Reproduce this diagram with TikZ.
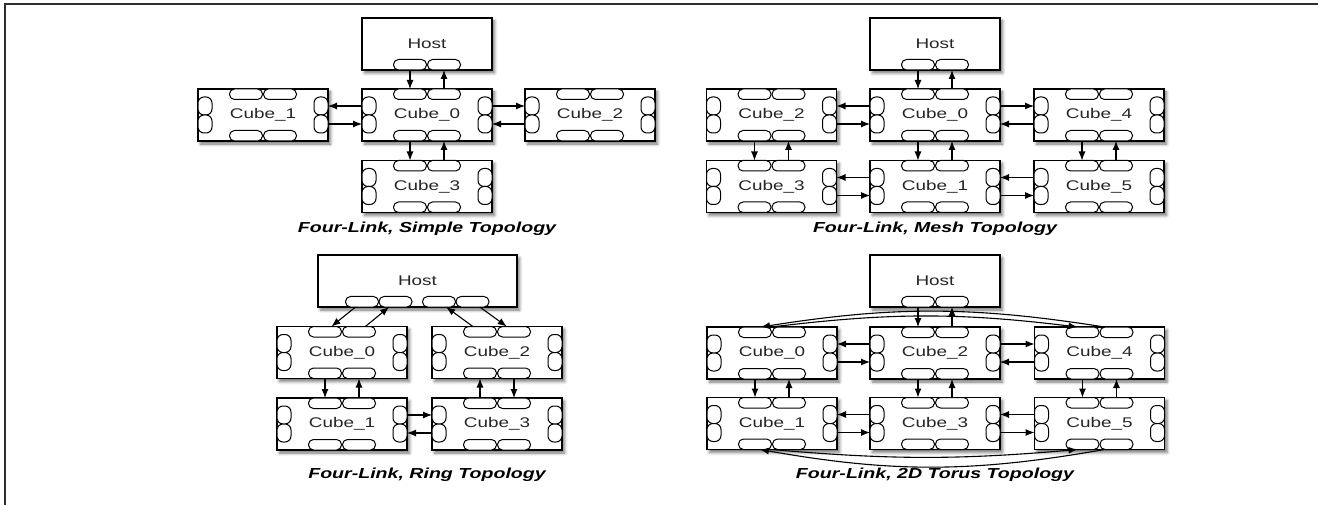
\documentclass[tikz,border=0pt]{standalone}
\usepackage{fontspec}
\setsansfont{Liberation Sans}[FakeStretch=1.35]
\usetikzlibrary{arrows.meta,positioning,shadows.blur}
\definecolor{frameLine}{HTML}{2E2E2E}
\definecolor{labelGray}{HTML}{262626}

% a cube box with its eight link ports
\newcommand{\cubeBox}[3]{%
  \node[cube] (#1) at (#2) {#3};
  \node[hport, anchor=north] (#1-t1) at ([xshift=-17pt]#1.north) {};
  \node[hport, anchor=north] (#1-t2) at ([xshift=17pt]#1.north) {};
  \node[hport, anchor=south] (#1-b1) at ([xshift=-17pt]#1.south) {};
  \node[hport, anchor=south] (#1-b2) at ([xshift=17pt]#1.south) {};
  \node[vport, anchor=west] (#1-l1) at ([yshift=9pt]#1.west) {};
  \node[vport, anchor=west] (#1-l2) at ([yshift=-9pt]#1.west) {};
  \node[vport, anchor=east] (#1-r1) at ([yshift=9pt]#1.east) {};
  \node[vport, anchor=east] (#1-r2) at ([yshift=-9pt]#1.east) {};
}
% a host box with two ports at the bottom
\newcommand{\hostBox}[2]{%
  \node[cube] (#1) at (#2) {Host};
  \node[hport, anchor=south] (#1-b1) at ([xshift=-17pt]#1.south) {};
  \node[hport, anchor=south] (#1-b2) at ([xshift=17pt]#1.south) {};
}

\begin{document}
\begin{tikzpicture}[
    x=1pt, y=-1pt,
    cube/.style={rectangle, draw=black, line width=1.3pt, fill=white, minimum width=130pt, minimum height=52pt, inner sep=0pt, outer sep=0pt, font=\sffamily\fontsize{14}{16}\selectfont, text=labelGray, blur shadow={shadow xshift=2.5pt, shadow yshift=-3pt, shadow blur radius=3pt, shadow opacity=55}},
    hport/.style={rectangle, rounded corners=5pt, draw=black, line width=1pt, fill=white, minimum width=33pt, minimum height=10.5pt, inner sep=0pt, outer sep=0pt},
    vport/.style={hport, rounded corners=6pt, minimum width=14pt, minimum height=18pt},
    link/.style={-{Latex[length=9pt,width=7pt]}, line width=1.1pt},
    caption/.style={font=\sffamily\bfseries\itshape\fontsize{14.5}{16}\selectfont}
  ]
  \useasboundingbox (0,0) rectangle (1318,505);
  \draw[frameLine, line width=1.6pt] (5,505) -- (5,4) -- (1318,4);

  % simple topology
  \hostBox{hs}{427,44}
  \cubeBox{s0}{427,115}{Cube\_0}
  \cubeBox{s1}{263,115}{Cube\_1}
  \cubeBox{s2}{590,115}{Cube\_2}
  \cubeBox{s3}{427,186.5}{Cube\_3}
  \node[caption] (capS) at (427,229) {Four-Link, Simple Topology};
  \draw[link] (hs-b1) -- (s0-t1);
  \draw[link] (s0-t2) -- (hs-b2);
  \draw[link] (s0-l1) -- (s1-r1);
  \draw[link] (s1-r2) -- (s0-l2);
  \draw[link] (s0-r1) -- (s2-l1);
  \draw[link] (s2-l2) -- (s0-r2);
  \draw[link] (s0-b1) -- (s3-t1);
  \draw[link] (s3-t2) -- (s0-b2);

  % mesh topology
  \hostBox{hm}{935,44}
  \cubeBox{m0}{935,115}{Cube\_0}
  \cubeBox{m2}{771.5,115}{Cube\_2}
  \cubeBox{m4}{1099,115}{Cube\_4}
  \cubeBox{m1}{935,186.5}{Cube\_1}
  \cubeBox{m3}{771.5,186.5}{Cube\_3}
  \cubeBox{m5}{1099,186.5}{Cube\_5}
  \node[caption] (capM) at (935,229) {Four-Link, Mesh Topology};
  \draw[link] (hm-b1) -- (m0-t1);
  \draw[link] (m0-t2) -- (hm-b2);
  \draw[link] (m0-l1) -- (m2-r1);
  \draw[link] (m2-r2) -- (m0-l2);
  \draw[link] (m0-r1) -- (m4-l1);
  \draw[link] (m4-l2) -- (m0-r2);
  \draw[link] (m2-b1) -- (m3-t1);
  \draw[link] (m3-t2) -- (m2-b2);
  \draw[link] (m0-b1) -- (m1-t1);
  \draw[link] (m1-t2) -- (m0-b2);
  \draw[link] (m4-b1) -- (m5-t1);
  \draw[link] (m5-t2) -- (m4-b2);
  \draw[link] (m1-l1) -- (m3-r1);
  \draw[link] (m3-r2) -- (m1-l2);
  \draw[link] (m5-l1) -- (m1-r1);
  \draw[link] (m1-r2) -- (m5-l2);

  % ring topology
  \node[cube, minimum width=199pt] (hr) at (417.5,281) {Host};
  \node[hport, anchor=south] (hr-b1) at ([xshift=-55.5pt]hr.south) {};
  \node[hport, anchor=south] (hr-b2) at ([xshift=-22pt]hr.south) {};
  \node[hport, anchor=south] (hr-b3) at ([xshift=21.5pt]hr.south) {};
  \node[hport, anchor=south] (hr-b4) at ([xshift=55pt]hr.south) {};
  \cubeBox{r0}{342,352.5}{Cube\_0}
  \cubeBox{r2}{497,352.5}{Cube\_2}
  \cubeBox{r1}{342,424}{Cube\_1}
  \cubeBox{r3}{497,424}{Cube\_3}
  \node[caption] (capR) at (427,475) {Four-Link, Ring Topology};
  \draw[link] (hr-b1) -- (r0-t1);
  \draw[link] (r0-t2) -- (hr-b2);
  \draw[link] (r2-t1) -- (hr-b3);
  \draw[link] (hr-b4) -- (r2-t2);
  \draw[link] (r0-b1) -- (r1-t1);
  \draw[link] (r1-t2) -- (r0-b2);
  \draw[link] (r3-t1) -- (r2-b1);
  \draw[link] (r2-b2) -- (r3-t2);
  \draw[link] (r1-r1) -- (r3-l1);
  \draw[link] (r3-l2) -- (r1-r2);

  % 2D torus topology
  \hostBox{ht}{935,281}
  \cubeBox{t0}{772,353}{Cube\_0}
  \cubeBox{t2}{935,353}{Cube\_2}
  \cubeBox{t4}{1099.5,353}{Cube\_4}
  \cubeBox{t1}{772,423.5}{Cube\_1}
  \cubeBox{t3}{935,423.5}{Cube\_3}
  \cubeBox{t5}{1099.5,423.5}{Cube\_5}
  \node[caption] (capT) at (935,475) {Four-Link, 2D Torus Topology};
  \draw[link] (ht-b1) -- (t2-t1);
  \draw[link] (t2-t2) -- (ht-b2);
  \draw[link] (t2-l1) -- (t0-r1);
  \draw[link] (t0-r2) -- (t2-l2);
  \draw[link] (t2-r1) -- (t4-l1);
  \draw[link] (t4-l2) -- (t2-r2);
  \draw[link] (t0-b1) -- (t1-t1);
  \draw[link] (t1-t2) -- (t0-b2);
  \draw[link] (t2-b1) -- (t3-t1);
  \draw[link] (t3-t2) -- (t2-b2);
  \draw[link] (t4-b1) -- (t5-t1);
  \draw[link] (t5-t2) -- (t4-b2);
  \draw[link] (t3-l1) -- (t1-r1);
  \draw[link] (t1-r2) -- (t3-l2);
  \draw[link] (t5-l1) -- (t3-r1);
  \draw[link] (t3-r2) -- (t5-l2);
  % wrap-around links
  \draw[link] ([xshift=-12pt]t4-t2.north) to[bend right=9] ([xshift=6pt]t0-t1.north);
  \draw[link] (t0-t1.north east) to[bend left=7] ([xshift=-5pt]t4-t1.north);
  \draw[link] ([xshift=-12pt]t5-b2.south) to[bend left=10] ([xshift=5pt]t1-b1.south);
  \draw[link] (t1-b1.south east) to[bend right=5] ([xshift=-5pt]t5-b1.south);
\end{tikzpicture}
\end{document}
